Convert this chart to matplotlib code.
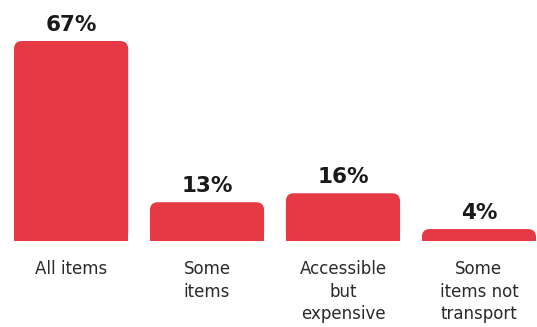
import matplotlib
matplotlib.use("Agg")
import matplotlib.pyplot as plt
from matplotlib.patches import FancyBboxPatch, Rectangle

categories = ["All items", "Some\nitems", "Accessible\nbut\nexpensive", "Some\nitems not\ntransport"]
values = [67, 13, 16, 4]
value_labels = ["67%", "13%", "16%", "4%"]

BAR_COLOR = "#E63946"
W, H, DPI = 537, 327, 100

fig = plt.figure(figsize=(W / DPI, H / DPI), dpi=DPI)
# axes placed in pixel terms: baseline at y=241, top of tallest bar at y=41
left_px, right_px, top_px, base_px = 14, 536, 41, 241
ax = fig.add_axes([left_px / W, (H - base_px) / H,
                   (right_px - left_px) / W, (base_px - top_px) / H])
width = 0.84
ax.set_xlim(-width / 2, len(values) - 1 + width / 2)
ax.set_ylim(0, max(values))
ax.axis("off")

# rounded top corners: data-unit sizes derived from pixel scale
px_per_x = (right_px - left_px) / (len(values) - 1 + width)
px_per_y = (base_px - top_px) / max(values)
radius_px = 8
aspect = px_per_x / px_per_y
r_x = radius_px / px_per_x

for i, v in enumerate(values):
    x0 = i - width / 2
    rounded = FancyBboxPatch((x0, 0), width, v,
                             boxstyle=f"round,pad=0,rounding_size={r_x}",
                             mutation_aspect=aspect, linewidth=0,
                             facecolor=BAR_COLOR, clip_on=False)
    ax.add_patch(rounded)
    # square off the bottom corners
    ax.add_patch(Rectangle((x0, 0), width, v / 2, linewidth=0,
                           facecolor=BAR_COLOR, clip_on=False))
    ax.annotate(value_labels[i], (i, v), xytext=(0, 4.5), textcoords="offset points",
                ha="center", va="bottom", fontsize=15.5, fontweight="bold",
                color="#1a1a1a", family="DejaVu Sans", annotation_clip=False)
    ax.annotate(categories[i], (i, 0), xytext=(0, -14), textcoords="offset points",
                ha="center", va="top", fontsize=12, color="#2a2a2a",
                family="DejaVu Sans", linespacing=1.3, annotation_clip=False)

fig.savefig("out.png", dpi=DPI)
